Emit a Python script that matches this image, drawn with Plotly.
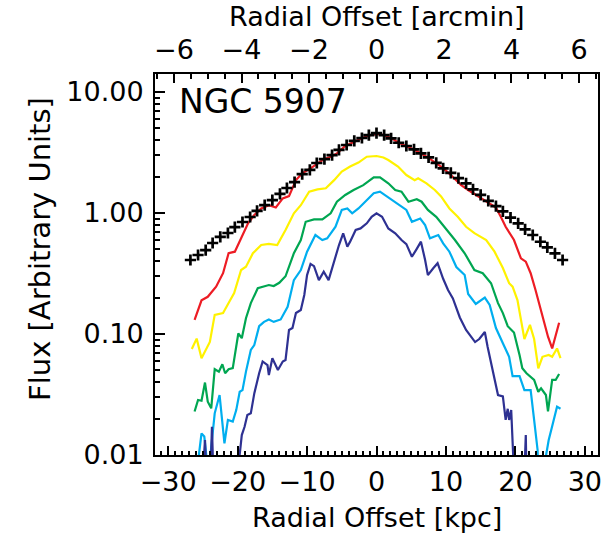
import plotly.graph_objects as go

KPC_PER_ARCMIN = 4.86

# Model profile (black crosses)
model_kpc = [-26.8, -25.7, -24.6, -23.6, -22.5, -21.4, -20.4, -19.3, -18.2, -17.2, -16.1, -15.0, -13.9,
             -12.9, -11.8, -10.7, -9.6, -8.6, -7.5, -6.4, -5.4, -4.3, -3.2, -2.1, -1.1, 0.0,
             1.1, 2.1, 3.2, 4.3, 5.4, 6.4, 7.5, 8.6, 9.6, 10.7, 11.8, 12.9, 13.9, 15.0, 16.1,
             17.2, 18.2, 19.3, 20.4, 21.4, 22.5, 23.6, 24.6, 25.7, 26.8]
model_flux = [0.409, 0.450, 0.494, 0.565, 0.634, 0.684, 0.766, 0.843, 0.927, 1.04, 1.16, 1.28, 1.44,
              1.61, 1.80, 2.10, 2.27, 2.59, 2.79, 3.01, 3.32, 3.65, 3.94, 4.17, 4.41, 4.58,
              4.41, 4.14, 3.81, 3.58, 3.36, 3.11, 2.88, 2.60, 2.34, 2.15, 1.94, 1.76, 1.57, 1.41, 1.26,
              1.14, 1.03, 0.915, 0.822, 0.733, 0.658, 0.579, 0.521, 0.464, 0.409]

red_kpc = [-26.2, -25.2, -24.3, -23.1, -22.1, -21.3, -20.4, -19.4, -18.5, -17.6, -16.6, -15.5, -14.5,
           -13.5, -12.6, -11.6, -10.7, -9.5, -8.5, -7.6, -6.6, -5.7, -4.5, -3.3, -2.1, -0.9, 0.3,
           1.1, 2.2, 3.2, 4.3, 5.3, 6.4, 7.4, 8.5, 9.6, 10.7, 12.2, 13.2, 14.6, 16.0, 17.2, 17.9,
           18.6, 19.8, 20.8, 21.5, 22.2, 22.9, 23.7, 24.2, 24.7, 25.3, 25.8, 26.3]
red_flux = [0.131, 0.190, 0.203, 0.246, 0.318, 0.465, 0.479, 0.637, 0.822, 0.962, 1.09, 1.16, 1.11,
            1.32, 1.38, 1.87, 2.13, 2.34, 2.57, 2.78, 2.92, 3.11, 3.58, 3.88, 4.14, 4.41, 4.50,
            4.41, 4.14, 3.81, 3.58, 3.36, 3.11, 2.88, 2.60, 2.35, 2.06, 1.70, 1.55, 1.38, 1.24, 1.11, 0.931,
            0.770, 0.598, 0.422, 0.396, 0.318, 0.231, 0.158, 0.122, 0.095, 0.076, 0.098, 0.124]

yellow_kpc = [-26.6, -25.9, -25.2, -24.7, -24.0, -23.3, -22.1, -21.2, -20.5, -19.5, -18.8, -17.8, -16.6,
              -15.5, -14.3, -13.1, -11.9, -10.9, -9.7, -8.5, -7.3, -6.1, -5.0, -3.8, -2.6, -1.4, 0.0,
              1.0, 1.7, 3.1, 4.3, 5.5, 6.0, 7.2, 8.4, 9.3, 10.5, 11.7, 12.9, 14.1, 15.8, 17.0, 18.2,
              19.1, 19.6, 20.3, 21.3, 22.1, 22.7, 23.3, 23.9, 24.8, 25.3, 26.0, 26.5]
yellow_flux = [0.0752, 0.0916, 0.0631, 0.0717, 0.0860, 0.144, 0.149, 0.185, 0.218, 0.338, 0.360, 0.465, 0.544,
               0.555, 0.544, 0.724, 0.994, 1.16, 1.50, 1.57, 1.60, 1.87, 2.20, 2.42, 2.61, 2.92, 2.96,
               2.88, 2.74, 2.42, 2.06, 1.87, 1.94, 1.76, 1.55, 1.37, 1.09, 0.931, 0.770, 0.681, 0.598, 0.479, 0.351,
               0.263, 0.246, 0.191, 0.0909, 0.119, 0.0909, 0.0519, 0.0648, 0.0670, 0.0648, 0.0760, 0.0631]

green_kpc = [-26.2, -25.7, -25.2, -24.7, -24.3, -23.8, -23.3, -22.7, -22.2, -21.8, -21.3, -20.7, -19.9,
             -19.4, -18.8, -18.1, -17.1, -16.2, -15.5, -14.8, -14.0, -13.1, -11.9, -10.9, -10.2, -9.0,
             -7.8, -6.6, -5.7, -4.5, -3.3, -1.9, -0.4, 0.5,
             1.7, 2.7, 3.6, 4.6, 5.8, 6.5, 7.4, 8.6, 9.8, 11.3, 12.7, 14.1, 15.3, 16.5, 17.5, 18.2,
             18.9, 19.8, 20.6, 21.0, 21.6, 22.2, 22.7, 23.3, 23.7, 24.4, 24.7, 25.3, 25.8, 26.3]
green_flux = [0.0229, 0.0285, 0.0281, 0.0397, 0.0276, 0.0243, 0.0512, 0.0489, 0.0562, 0.0474, 0.0512, 0.0522, 0.101,
              0.0923, 0.135, 0.180, 0.239, 0.246, 0.254, 0.249, 0.265, 0.300, 0.465, 0.598, 0.846, 0.885,
              0.885, 0.994, 1.24, 1.41, 1.55, 1.70, 1.97, 1.97,
              1.76, 1.55, 1.50, 1.24, 1.30, 1.24, 1.06, 0.931, 0.770, 0.598, 0.465, 0.338, 0.318, 0.263, 0.180, 0.149,
              0.116, 0.103, 0.0670, 0.0521, 0.0474, 0.0444, 0.0417, 0.0333, 0.0356, 0.0313, 0.0229, 0.0417, 0.0417, 0.0467]

cyan_kpc = [-25.6, -25.2, -24.8, -24.5, -24.0, -23.3, -22.6, -21.9, -21.4, -20.7, -20.2, -19.7, -19.3,
            -18.8, -18.1, -17.6, -16.9, -16.2, -15.5, -14.8, -13.8, -12.8, -11.9, -10.9, -10.0, -8.8,
            -7.8, -7.1, -5.9, -5.0, -4.2, -3.5, -2.6, -1.4, -0.4, 0.5,
            1.2, 2.2, 3.4, 4.3, 5.1, 6.3, 7.0, 7.7, 8.9, 9.6, 10.5, 11.5, 12.7, 13.2, 14.3, 15.6,
            16.3, 17.2, 18.2, 19.1, 19.6, 20.6, 21.3, 22.2, 22.7, 23.2, 23.3, 24.2, 24.4, 24.8,
            25.3, 26.0, 26.5]
cyan_flux = [0.0098, 0.0151, 0.0142, 0.0098, 0.009, 0.0221, 0.0313, 0.0125, 0.0195, 0.0189, 0.0235, 0.0333, 0.0344,
             0.0489, 0.0738, 0.0811, 0.116, 0.126, 0.132, 0.126, 0.132, 0.168, 0.279, 0.338, 0.479, 0.658,
             0.598, 0.617, 0.770, 1.06, 1.09, 0.994, 1.09, 1.28, 1.46, 1.50,
             1.41, 1.28, 1.16, 1.06, 0.846, 0.901, 0.796, 0.617, 0.658, 0.561, 0.479, 0.358, 0.307, 0.214, 0.177, 0.200,
             0.174, 0.112, 0.0840, 0.0648, 0.0449, 0.0449, 0.0344, 0.0344, 0.0195, 0.0110, 0.007, 0.007, 0.0098, 0.0133,
             0.0173, 0.0251, 0.0241]

navy_kpc = [-25.0, -24.7, -24.5, -23.9, -23.7, -23.5, -20.0, -19.7, -19.4, -19.0, -18.6, -18.1, -17.6,
            -16.9, -16.4, -15.7, -15.5, -15.0, -14.5, -14.2, -13.5, -13.1, -12.6, -12.1, -11.6, -10.9,
            -10.4, -10.0, -9.5, -9.0, -8.3, -7.6, -6.9, -6.2, -5.4, -4.8, -4.2, -3.8, -3.0, -2.3,
            -1.4, -0.7, 0.0,
            0.8, 1.2, 1.7, 2.7, 3.6, 4.3, 5.1, 5.8, 6.4, 7.0, 7.4, 8.2, 8.8, 9.6, 10.3, 11.0, 11.5,
            12.0, 12.9, 13.6, 14.2, 14.8, 15.6, 16.0, 16.5, 17.0, 17.5, 18.2, 18.6, 18.9, 19.1, 19.4,
            19.8, 21.3, 21.5, 21.6]
navy_flux = [0.007, 0.0133, 0.007, 0.007, 0.0171, 0.007, 0.007, 0.0103, 0.0146, 0.0171, 0.0214, 0.0221, 0.0323,
             0.0474, 0.0593, 0.0554, 0.0458, 0.0631, 0.0538, 0.0504, 0.0593, 0.0610, 0.108, 0.112, 0.149, 0.158,
             0.210, 0.307, 0.380, 0.364, 0.279, 0.327, 0.279, 0.382, 0.544, 0.680, 0.527, 0.580, 0.724, 0.746,
             0.822, 0.931, 0.994,
             0.931, 0.846, 0.746, 0.680, 0.598, 0.553, 0.435, 0.506, 0.580, 0.409, 0.307, 0.351, 0.385, 0.286, 0.231, 0.197, 0.163,
             0.137, 0.108, 0.095, 0.0858, 0.0909, 0.104, 0.0785, 0.0575, 0.0449, 0.0313, 0.0305, 0.0195, 0.0241, 0.0195, 0.0235,
             0.007, 0.007, 0.0146, 0.007]

y_tickvals = [0.01, 0.1, 1, 10]
y_ticktext = ["0.01", "0.10", "1.00", "10.00"]
y_minor = [m * d for d in (0.01, 0.1, 1) for m in range(2, 10)]

series = [
    (red_kpc, red_flux, "#ED1C24"),
    (yellow_kpc, yellow_flux, "#FFF200"),
    (green_kpc, green_flux, "#00A651"),
    (cyan_kpc, cyan_flux, "#00AEEF"),
    (navy_kpc, navy_flux, "#2E3192"),
]

FONT = "DejaVu Sans"
FS = 27
fig = go.Figure()
for xs, ys, col in series:
    fig.add_trace(go.Scatter(x=xs, y=ys, mode="lines", line=dict(color=col, width=2.2),
                             showlegend=False, hoverinfo="skip"))
fig.add_trace(go.Scatter(x=model_kpc, y=model_flux, mode="markers",
                         marker=dict(symbol="cross-thin", size=8, color="black",
                                     line=dict(width=2.7, color="black")),
                         showlegend=False, hoverinfo="skip"))
fig.add_trace(go.Scatter(x=[None], y=[None], xaxis="x2", showlegend=False, hoverinfo="skip"))

XR = [-31.9, 31.9]
fig.update_layout(
    width=614, height=534,
    margin=dict(l=155, r=13, t=74, b=79),
    plot_bgcolor="white", paper_bgcolor="white",
    font=dict(family=FONT, size=FS, color="black"),
    xaxis=dict(range=XR, tickmode="linear", tick0=0, dtick=10, ticks="inside", ticklen=9, tickwidth=1.5,
               tickcolor="black", showline=True, linecolor="black", linewidth=2, mirror=True,
               showgrid=False, zeroline=False, ticklabelstandoff=2,
               minor=dict(tick0=0, dtick=1, ticks="inside", ticklen=4, tickwidth=1.5, tickcolor="black")),
    xaxis2=dict(range=[XR[0] / KPC_PER_ARCMIN, XR[1] / KPC_PER_ARCMIN], overlaying="x", side="top",
                tickmode="linear", tick0=0, dtick=2, ticks="inside", ticklen=9, tickwidth=1.5,
                tickcolor="black", showgrid=False, zeroline=False, showline=False, ticklabelstandoff=9,
                minor=dict(tick0=0, dtick=0.5, ticks="inside", ticklen=5, tickwidth=1.5, tickcolor="black")),
    yaxis=dict(type="log", range=[-2, 1.149], tickmode="array", tickvals=y_tickvals, ticktext=y_ticktext,
               ticks="inside", ticklen=10, tickwidth=1.5, tickcolor="black", showline=True,
               linecolor="black", linewidth=2, mirror=True, showgrid=False, zeroline=False,
               ticklabelstandoff=4,
               minor=dict(tickmode="array", tickvals=y_minor, ticks="inside", ticklen=5, tickwidth=1.5,
                          tickcolor="black")),
    annotations=[
        dict(text="NGC 5907", xref="paper", yref="paper", x=0.05, y=0.985,
             xanchor="left", yanchor="top", showarrow=False, font=dict(size=33)),
        dict(text="Radial Offset [kpc]", xref="paper", yref="paper", x=0.5, y=-0.165,
             xanchor="center", yanchor="middle", showarrow=False, font=dict(size=FS)),
        dict(text="Radial Offset [arcmin]", xref="paper", yref="paper", x=0.5, y=1.152,
             xanchor="center", yanchor="middle", showarrow=False, font=dict(size=FS)),
        dict(text="Flux [Arbitrary Units]", xref="paper", yref="paper", x=-0.258, y=0.54,
             xanchor="center", yanchor="middle", textangle=-90, showarrow=False, font=dict(size=29)),
    ],
)
fig.write_html("out.html")
